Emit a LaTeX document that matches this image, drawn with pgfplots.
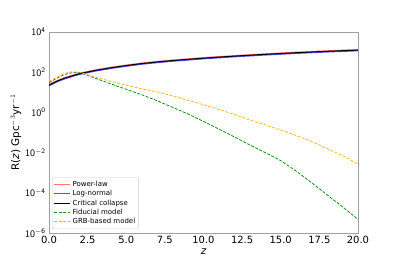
\documentclass[border=0pt]{standalone}
\usepackage{pgfplots}
\pgfplotsset{compat=1.18}
\usepackage{fontspec}
\setmainfont{DejaVu Sans}
\definecolor{spine}{RGB}{160,160,160}
\definecolor{pl}{RGB}{255,120,120}
\definecolor{ln}{RGB}{80,80,255}
\definecolor{fid}{RGB}{20,140,20}
\definecolor{grb}{RGB}{255,180,40}
\begin{document}
\begin{tikzpicture}
\begin{axis}[
  at={(0,0)}, anchor=south west,
  scale only axis, width=309bp, height=201bp,
  xmin=0, xmax=20, ymode=log, ymin=1e-6, ymax=1e4,
  xtick={0,2.5,5,7.5,10,12.5,15,17.5,20},
  xticklabels={0.0,2.5,5.0,7.5,10.0,12.5,15.0,17.5,20.0},
  ytick={1e-6,1e-4,1e-2,1e0,1e2,1e4},
  minor ytick={}, yminorticks=false,
  major tick length=0pt,
  axis line style={spine, line width=0.8pt},
  tick label style={font=\fontsize{10}{11}\selectfont},
  /pgf/number format/assume math mode=true,
  yticklabel={$\mathsf{10^{\pgfmathprintnumber[fixed]{\tick}}}$},
  log basis y=10,
  xlabel={$\mathit{z}$},
  ylabel={R($\mathit{z}$) Gpc$^{-3}$yr$^{-1}$},
  label style={font=\fontsize{10.5}{11}\selectfont},
  xlabel style={yshift=2pt},
  ylabel style={yshift=-3pt},
  legend style={at={(0.01,0.02)}, anchor=south west, draw=gray!40, rounded corners=1.5pt,
    font=\fontsize{7}{8}\selectfont, row sep=-1.4pt, inner sep=1.5pt},
  legend cell align=left,
  legend image code/.code={\draw[#1] (0cm,0cm) -- (0.55cm,0cm);},
]
\addplot[pl, line width=1.3pt] coordinates {
(0,24.5) (0.5,37.2) (1,52.5) (1.5,69.2) (2,89.1) (3,129) (4,174) (5,224) (6,282) (7,339) (8,398) (9,457) (10,525) (12,661) (14,813) (16,977) (18,1148) (20,1318)};
\addlegendentry{Power-law}
\addplot[ln, line width=1.3pt] coordinates {
(0,21.4) (0.5,33.1) (1,46.8) (1.5,61.7) (2,79.4) (3,115) (4,155) (5,200) (6,251) (7,302) (8,355) (9,407) (10,468) (12,589) (14,724) (16,871) (18,1023) (20,1175)};
\addlegendentry{Log-normal}
\addplot[black, line width=1.0pt] coordinates {
(0,22.9) (0.5,35.5) (1,50.1) (1.5,66.1) (2,85.1) (3,123) (4,166) (5,214) (6,269) (7,324) (8,380) (9,437) (10,501) (12,631) (14,776) (16,933) (18,1096) (20,1259)};
\addlegendentry{Critical collapse}
\addplot[fid, dash pattern=on 3pt off 1.5pt, line width=0.8pt] coordinates {
(0,30.2) (0.5,50.1) (1,75.9) (1.5,95.5) (2,95.5) (3,50.1) (4,26.3) (5,14.1) (6,7.59) (7,3.80) (8,1.78) (9,0.832) (10,0.355) (11,0.148) (12,0.0603) (13,0.0240) (14,0.0100) (15,0.00398) (16,0.00120) (17,3.16e-4) (18,7.94e-5) (19,2.00e-5) (20,4.79e-6)};
\addlegendentry{Fiducial model}
\addplot[grb, dash pattern=on 3pt off 1.5pt, line width=0.8pt] coordinates {
(0,35.5) (0.5,56.2) (1,89.1) (1.5,105) (2,100) (3,56.2) (4,35.5) (5,22.4) (6,15.1) (7,10.5) (8,6.61) (9,3.98) (10,2.40) (11,1.41) (12,0.794) (13,0.417) (14,0.240) (15,0.132) (15.3,0.110) (16,0.0708) (17,0.0355) (18,0.0158) (19,0.00708) (20,0.00269)};
\addlegendentry{GRB-based model}
\end{axis}
\path[use as bounding box] (-49bp,-33bp) rectangle (350bp,233bp);
\end{tikzpicture}
\end{document}
